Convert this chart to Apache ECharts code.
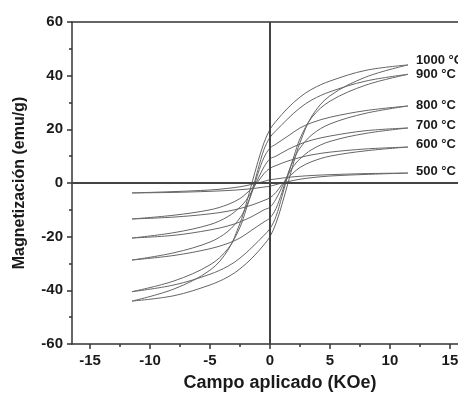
<!DOCTYPE html>
<html>
<head>
<meta charset="utf-8">
<script src="https://cdn.jsdelivr.net/npm/echarts@6/dist/echarts.min.js"></script>
<style>
  html, body { margin: 0; padding: 0; background: #fff; }
  #chart { width: 458px; height: 395px; }
</style>
</head>
<body>
<div id="chart"></div>
<script>
// field sweep points (KOe): descending branch and ascending branch
const fieldDown = [11.5, 8, 5, 3.5, 2.5, 1.5, 0.5, 0, -0.5, -1, -1.5, -2, -2.5, -3.5, -5, -8, -11.5]
const fieldUp = [-11.5, -8, -5, -3.5, -2.5, -1.5, -0.5, 0, 0.5, 1, 1.5, 2, 2.5, 3.5, 5, 8, 11.5]

const temps = ['1000 °C', '900 °C', '800 °C', '700 °C', '600 °C', '500 °C']

// magnetization (emu/g)
const upper1000 = [44, 42, 38, 35, 32, 28, 23, 20, 15, 8, 0, -8, -15, -25, -32.5, -39.5, -44]
const lower1000 = [-44, -42, -38, -35, -32, -28, -23, -20, -15, -8, 0, 8, 15, 25, 32.5, 39.5, 44]
const upper900 = [40.5, 38, 34, 31, 28, 24, 19.5, 17, 12.5, 5, -3, -10, -16.5, -24.5, -30.5, -36.5, -40.5]
const lower900 = [-40.5, -38, -34, -31, -28, -24, -19.5, -17, -12.5, -5, 3, 10, 16.5, 24.5, 30.5, 36.5, 40.5]
const upper800 = [28.7, 27, 24.5, 22.5, 20.5, 17.5, 14.5, 13, 9.5, 3.5, -3.5, -9, -13, -18, -22, -26, -28.7]
const lower800 = [-28.7, -27, -24.5, -22.5, -20.5, -17.5, -14.5, -13, -9.5, -3.5, 3.5, 9, 13, 18, 22, 26, 28.7]
const upper700 = [20.5, 19.5, 17.5, 16, 14.5, 12.5, 10, 9, 6, 1.5, -3, -6.5, -9, -12.5, -15.5, -18.5, -20.5]
const lower700 = [-20.5, -19.5, -17.5, -16, -14.5, -12.5, -10, -9, -6, -1.5, 3, 6.5, 9, 12.5, 15.5, 18.5, 20.5]
const upper600 = [13.4, 12.7, 11.5, 10.5, 9.5, 8.2, 6.5, 5.5, 3.5, 0.5, -2, -4, -5.8, -8, -10, -12, -13.4]
const lower600 = [-13.4, -12.7, -11.5, -10.5, -9.5, -8.2, -6.5, -5.5, -3.5, -0.5, 2, 4, 5.8, 8, 10, 12, 13.4]
const upper500 = [3.7, 3.5, 3.1, 2.8, 2.5, 2.1, 1.5, 1.2, 0.6, 0, -0.5, -1, -1.4, -2, -2.6, -3.2, -3.7]
const lower500 = [-3.7, -3.5, -3.1, -2.8, -2.5, -2.1, -1.5, -1.2, -0.6, 0, 0.5, 1, 1.4, 2, 2.6, 3.2, 3.7]

const xMajorTicks = [-15, -10, -5, 0, 5, 10, 15]
const xMinorTicks = [-12.5, -7.5, -2.5, 2.5, 7.5, 12.5]
// the original frame runs past the right edge of the picture
const xMin = -16.5
const xMax = 15.67

const loops = [
  [upper1000, lower1000],
  [upper900, lower900],
  [upper800, lower800],
  [upper700, lower700],
  [upper600, lower600],
  [upper500, lower500],
]
// small vertical nudges for the temperature labels
const labelNudge = [-5, 0, -1, -3, -3, -2]

const axisColor = '#333'
const textColor = '#1a1a1a'
const font = 'Liberation Sans, Arial, sans-serif'

const chart = echarts.init(document.getElementById('chart'), null, { renderer: 'canvas' })

const zip = (xs, ys) => xs.map((x, i) => [x, ys[i]])

const series = []
loops.forEach(([up, low], i) => {
  const base = {
    type: 'line',
    xAxisIndex: 0,
    yAxisIndex: 0,
    showSymbol: false,
    smooth: 0.35,
    lineStyle: { color: '#666', width: 1 },
    animation: false,
    silent: true,
  }
  series.push({ ...base, name: temps[i] + ' down', data: zip(fieldDown, up) })
  series.push({
    ...base,
    name: temps[i],
    data: zip(fieldUp, low),
    endLabel: {
      show: true,
      formatter: temps[i],
      distance: 8,
      offset: [0, labelNudge[i]],
      color: textColor,
      fontFamily: font,
      fontWeight: 'bold',
      fontSize: 13,
    },
  })
})

// zero lines
series[0].markLine = {
  silent: true,
  symbol: 'none',
  animation: false,
  label: { show: false },
  lineStyle: { color: '#444', width: 2, type: 'solid' },
  data: [{ yAxis: 0 }, { xAxis: 0 }],
}

chart.setOption({
  backgroundColor: '#fff',
  grid: { left: 72, right: 0, top: 22, bottom: 51, containLabel: false, outerBoundsMode: 'none' },
  xAxis: [
    {
      type: 'value',
      position: 'bottom',
      min: xMin,
      max: xMax,
      splitLine: { show: false },
      axisLine: { onZero: false, lineStyle: { color: axisColor, width: 1.5 } },
      axisTick: { customValues: xMajorTicks, length: 5, lineStyle: { color: axisColor, width: 1.5 } },
      axisLabel: {
        customValues: xMajorTicks,
        margin: 9,
        color: textColor,
        fontFamily: font,
        fontWeight: 'bold',
        fontSize: 15,
      },
      name: 'Campo aplicado (KOe)',
      nameLocation: 'middle',
      nameGap: 30,
      nameTextStyle: {
        color: textColor,
        fontFamily: font,
        fontWeight: 'bold',
        fontSize: 18,
        padding: [0, 0, 0, 30],
      },
    },
    {
      type: 'value',
      position: 'bottom',
      min: xMin,
      max: xMax,
      splitLine: { show: false },
      axisLine: { show: false, onZero: false },
      axisTick: { customValues: xMinorTicks, length: 3, lineStyle: { color: axisColor, width: 1.5 } },
      axisLabel: { show: false },
    },
    {
      type: 'value',
      position: 'top',
      min: xMin,
      max: xMax,
      splitLine: { show: false },
      axisLine: { onZero: false, lineStyle: { color: axisColor, width: 1.5 } },
      axisTick: { show: false },
      axisLabel: { show: false },
    },
  ],
  yAxis: {
    type: 'value',
    min: -60,
    max: 60,
    interval: 20,
    splitLine: { show: false },
    axisLine: { show: true, onZero: false, lineStyle: { color: axisColor, width: 1.5 } },
    axisTick: { length: 5, lineStyle: { color: axisColor, width: 1.5 } },
    minorTick: { show: true, splitNumber: 2, length: 3, lineStyle: { color: axisColor, width: 1.5 } },
    axisLabel: {
      margin: 9,
      color: textColor,
      fontFamily: font,
      fontWeight: 'bold',
      fontSize: 15,
    },
    name: 'Magnetización (emu/g)',
    nameLocation: 'middle',
    nameGap: 44,
    nameTextStyle: {
      color: textColor,
      fontFamily: font,
      fontWeight: 'bold',
      fontSize: 16,
    },
  },
  series,
})
</script>
</body>
</html>
